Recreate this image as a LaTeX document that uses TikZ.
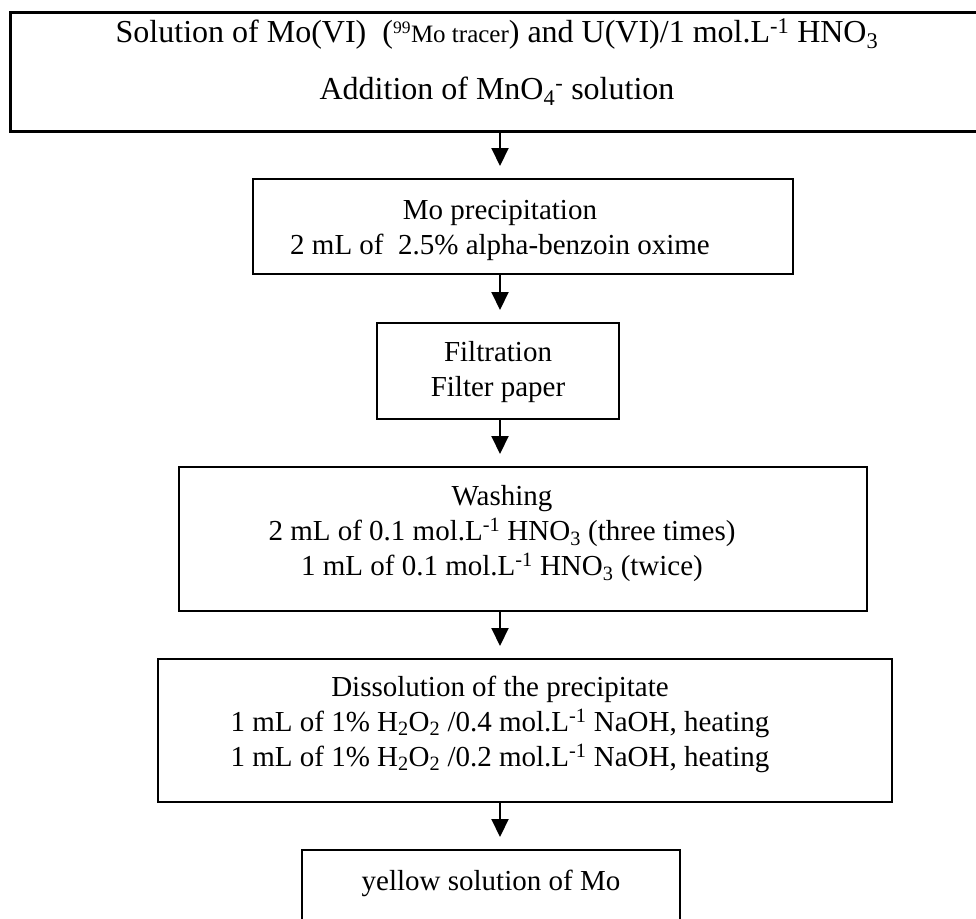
\documentclass[tikz,border=0pt]{standalone}
\usepackage{fontspec}
\setmainfont{Liberation Serif}
\usetikzlibrary{arrows.meta}

\begin{document}
\begin{tikzpicture}[x=1pt, y=-1pt,
  stepbox/.style ={draw=black, line width=2pt, inner sep=0pt},
  steptext/.style={align=center, inner sep=0pt, font=\fontsize{29}{35}\selectfont},
  flow/.style    ={-{Triangle[width=17pt,length=18pt]}, line width=2pt, shorten >=12pt},
]
% page in pixel units, y downwards
\clip (0,0) rectangle (976,918);
\coordinate (axis) at (500,0);

% boxes
\node[stepbox, line width=3pt, minimum width=1000pt, minimum height=119pt] (feed) at (510,71.5) {};
\node[stepbox, minimum width=540pt, minimum height=95pt]  (prec) at (523,226.5) {};
\node[stepbox, minimum width=242pt, minimum height=96pt]  (filt) at (498,371) {};
\node[stepbox, minimum width=688pt, minimum height=144pt] (wash) at (523,539) {};
\node[stepbox, minimum width=734pt, minimum height=143pt] (diss) at (525,730.5) {};
\node[stepbox, minimum width=378pt, minimum height=120pt] (yell) at (491,910) {};

% texts
\node[steptext, font=\fontsize{32}{38}\selectfont] (feedtxt) at (497,62) {Solution of Mo(VI)\ \ ({\fontsize{25}{25}\selectfont\textsuperscript{99}Mo tracer}) and U(VI)/1 mol.L\textsuperscript{-1} HNO\textsubscript{3}\\[19pt]
  Addition of MnO\textsubscript{4}\textsuperscript{-} solution};
\node[steptext] (prectxt) at (500,230.5) {Mo precipitation\\2 mL of \ 2.5\% alpha-benzoin oxime};
\node[steptext] (filttxt) at (498,372.5) {Filtration\\Filter paper};
\node[steptext] (washtxt) at (502,534) {Washing\\2 mL of 0.1 mol.L\textsuperscript{-1} HNO\textsubscript{3} (three times)\\
  1 mL of 0.1 mol.L\textsuperscript{-1} HNO\textsubscript{3} (twice)};
\node[steptext] (disstxt) at (500,724) {Dissolution of the precipitate\\
  1 mL of 1\% H\textsubscript{2}O\textsubscript{2} /0.4 mol.L\textsuperscript{-1} NaOH, heating\\
  1 mL of 1\% H\textsubscript{2}O\textsubscript{2} /0.2 mol.L\textsuperscript{-1} NaOH, heating};
\node[steptext] (yelltxt) at (491,883) {yellow solution of Mo};

% arrows
\draw[flow] (feed.south -| axis) -- (prec.north -| axis);
\draw[flow] (prec.south -| axis) -- (filt.north -| axis);
\draw[flow] (filt.south -| axis) -- (wash.north -| axis);
\draw[flow] (wash.south -| axis) -- (diss.north -| axis);
\draw[flow] (diss.south -| axis) -- (yell.north -| axis);
\end{tikzpicture}
\end{document}
